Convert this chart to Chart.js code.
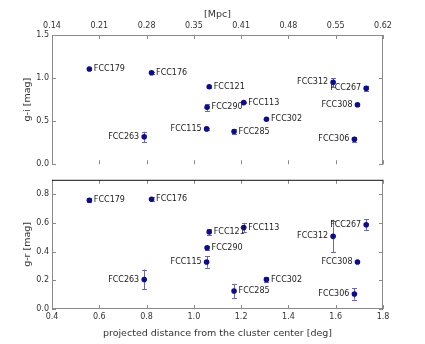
<!DOCTYPE html>
<html><head><meta charset="utf-8">
<script src="https://cdn.jsdelivr.net/npm/chart.js@4.4.0/dist/chart.umd.min.js"></script>
<style>
html,body{margin:0;padding:0;background:#fff;}
#wrap{position:relative;width:425px;height:344px;overflow:hidden;}
canvas{position:absolute;left:0;}
#c1{top:0;}
#c2{top:172px;}
</style></head><body>
<div id="wrap"><canvas id="c1" width="425" height="172"></canvas><canvas id="c2" width="425" height="172"></canvas></div>
<script>
const galaxies = ['FCC179','FCC176','FCC121','FCC290','FCC115','FCC263','FCC113','FCC302','FCC285','FCC312','FCC267','FCC308','FCC306'];
const distDeg  = [0.558, 0.821, 1.065, 1.056, 1.054, 0.790, 1.211, 1.307, 1.170, 1.589, 1.729, 1.692, 1.679];
const giValues = [1.106, 1.062, 0.900, 0.660, 0.410, 0.318, 0.715, 0.522, 0.380, 0.950, 0.880, 0.690, 0.290];
const giErrors = [0.010, 0.010, 0.010, 0.040, 0.010, 0.060, 0.010, 0.010, 0.030, 0.050, 0.030, 0.015, 0.030];
const grValues = [0.758, 0.765, 0.537, 0.427, 0.327, 0.206, 0.567, 0.206, 0.125, 0.506, 0.587, 0.327, 0.105];
const grErrors = [0.015, 0.015, 0.020, 0.015, 0.040, 0.069, 0.030, 0.015, 0.050, 0.110, 0.040, 0.010, 0.040];
const labelSide = ['r','r','r','r','l','l','r','r','r','l','l','l','l'];
const mpcTickLabels = ['0.14','0.21','0.28','0.35','0.41','0.48','0.55','0.62'];

const FONT = 'DejaVu Sans';
const MARK = '#0c0c8e';
const ERR = '#6a6ab4';
const FRAME = '#8a8a8a';

function makePlugins(values, errors, isTop){
  return [{
    id:'errbars',
    beforeDatasetsDraw(chart){
      const {ctx, scales:{x:xs, y:ys}} = chart;
      ctx.save();
      ctx.strokeStyle = ERR; ctx.lineWidth = 1;
      ctx.beginPath();
      for(let i=0;i<values.length;i++){
        const px = Math.round(xs.getPixelForValue(distDeg[i]))+0.5;
        const y1 = ys.getPixelForValue(values[i]-errors[i]);
        const y2 = ys.getPixelForValue(values[i]+errors[i]);
        ctx.moveTo(px,y1); ctx.lineTo(px,y2);
        ctx.moveTo(px-2.5,Math.round(y1)+0.5); ctx.lineTo(px+2.5,Math.round(y1)+0.5);
        ctx.moveTo(px-2.5,Math.round(y2)+0.5); ctx.lineTo(px+2.5,Math.round(y2)+0.5);
      }
      ctx.stroke();
      ctx.restore();
    },
    afterDatasetsDraw(chart){
      const {ctx} = chart;
      const meta = chart.getDatasetMeta(0);
      ctx.save();
      ctx.font = '8px "' + FONT + '"';
      ctx.fillStyle = '#222';
      ctx.textBaseline = 'middle';
      meta.data.forEach((pt,i)=>{
        if(labelSide[i]==='r'){ ctx.textAlign='left'; ctx.fillText(galaxies[i], pt.x+4.5, pt.y); }
        else { ctx.textAlign='right'; ctx.fillText(galaxies[i], pt.x-5, pt.y); }
      });
      ctx.restore();
    },
    afterDraw(chart){
      const {ctx, chartArea:a, scales:{x:xs, y:ys}} = chart;
      ctx.save();
      ctx.strokeStyle = FRAME; ctx.lineWidth = 1;
      ctx.beginPath();
      xs.ticks.forEach(t=>{
        const px = Math.round(xs.getPixelForValue(t.value))+0.5;
        ctx.moveTo(px,a.top); ctx.lineTo(px,a.top+4);
        ctx.moveTo(px,a.bottom); ctx.lineTo(px,a.bottom-4);
      });
      ys.ticks.forEach(t=>{
        const py = Math.round(ys.getPixelForValue(t.value))+0.5;
        ctx.moveTo(a.left,py); ctx.lineTo(a.left+4,py);
        ctx.moveTo(a.right,py); ctx.lineTo(a.right-4,py);
      });
      ctx.stroke();
      ctx.beginPath();
      ctx.moveTo(a.left+0.5, a.bottom); ctx.lineTo(a.left+0.5, a.top);
      ctx.moveTo(a.right-0.5, a.bottom); ctx.lineTo(a.right-0.5, a.top);
      if(isTop){ ctx.moveTo(a.left, a.top+0.5); ctx.lineTo(a.right, a.top+0.5); }
      else { ctx.moveTo(a.left, a.bottom-0.5); ctx.lineTo(a.right, a.bottom-0.5); }
      ctx.stroke();
      if(!isTop){
        ctx.strokeStyle = '#111';
        ctx.beginPath(); ctx.moveTo(a.left, a.top+0.5); ctx.lineTo(a.right, a.top+0.5); ctx.stroke();
      }
      ctx.restore();
    }
  }];
}

function pts(values){ return distDeg.map((d,i)=>({x:d, y:values[i]})); }

const tickFont = {family: FONT, size: 8};
const titleFont = {family: FONT, size: 9.5};

new Chart(document.getElementById('c1'), {
  type:'scatter',
  data:{datasets:[{data:pts(giValues), backgroundColor:MARK, borderColor:MARK, pointRadius:2.8, borderWidth:0}]},
  options:{
    responsive:false, animation:false,
    layout:{padding:{left:0,right:42,top:0,bottom:0}},
    plugins:{legend:{display:false}, tooltip:{enabled:false}},
    scales:{
      x:{type:'linear', position:'top', min:0.4, max:1.8,
        grid:{display:false, drawTicks:false}, border:{display:false},
        ticks:{stepSize:0.2, padding:4, color:'#333', font:tickFont, maxRotation:0,
          callback:(v,i)=>mpcTickLabels[i]},
        title:{display:true, text:'[Mpc]', color:'#333', font:titleFont, padding:{top:9,bottom:0}},
        afterFit:s=>{s.height=35;}
      },
      y:{type:'linear', min:0, max:1.5,
        grid:{display:false, drawTicks:false}, border:{display:false},
        ticks:{stepSize:0.5, padding:3, color:'#333', font:tickFont, callback:v=>v.toFixed(1)},
        title:{display:true, text:'g-i [mag]', color:'#333', font:titleFont, padding:{top:22,bottom:0}},
        afterFit:s=>{s.width=52;}
      }
    }
  },
  plugins: makePlugins(giValues, giErrors, true)
});

new Chart(document.getElementById('c2'), {
  type:'scatter',
  data:{datasets:[{data:pts(grValues), backgroundColor:MARK, borderColor:MARK, pointRadius:2.8, borderWidth:0}]},
  options:{
    responsive:false, animation:false,
    layout:{padding:{left:0,right:42,top:0,bottom:0}},
    plugins:{legend:{display:false}, tooltip:{enabled:false}},
    scales:{
      x:{type:'linear', position:'bottom', min:0.4, max:1.8,
        grid:{display:false, drawTicks:false}, border:{display:false},
        ticks:{stepSize:0.2, padding:3, color:'#333', font:tickFont, maxRotation:0,
          callback:v=>v.toFixed(1)},
        title:{display:true, text:'projected distance from the cluster center [deg]', color:'#333', font:titleFont, padding:{top:0,bottom:5}},
        afterFit:s=>{s.height=35;}
      },
      y:{type:'linear', min:0, max:0.9,
        grid:{display:false, drawTicks:false}, border:{display:false},
        ticks:{stepSize:0.2, includeBounds:false, padding:3, color:'#333', font:tickFont, callback:v=>v.toFixed(1)},
        title:{display:true, text:'g-r [mag]', color:'#333', font:titleFont, padding:{top:22,bottom:0}},
        afterFit:s=>{s.width=52;}
      }
    }
  },
  plugins: makePlugins(grValues, grErrors, false)
});
</script>
</body></html>
